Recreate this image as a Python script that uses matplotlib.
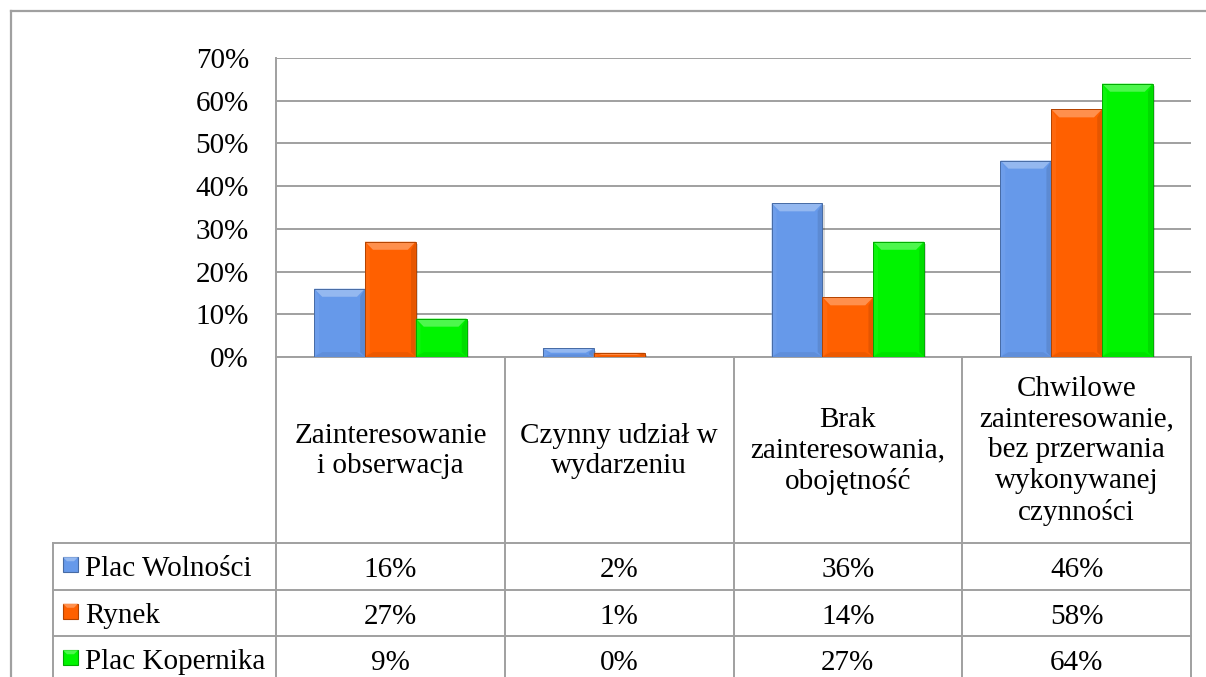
import matplotlib.pyplot as plt
import matplotlib.colors as mcolors
from matplotlib.patches import Polygon, Rectangle
from matplotlib.transforms import blended_transform_factory
import numpy as np

plt.rcParams["font.family"] = ["Liberation Serif", "DejaVu Serif"]

# ==========================================================
# Data
# ==========================================================

CATEGORIES = [
    "Zainteresowanie\ni obserwacja",
    "Czynny udział w\nwydarzeniu",
    "Brak\nzainteresowania,\nobojętność",
    "Chwilowe\nzainteresowanie,\nbez przerwania\nwykonywanej\nczynności",
]

SERIES = ["Plac Wolności", "Rynek", "Plac Kopernika"]

PLAC_WOLNOSCI = [16, 2, 36, 46]
RYNEK = [27, 1, 14, 58]
PLAC_KOPERNIKA = [9, 0, 27, 64]

VALUES = [PLAC_WOLNOSCI, RYNEK, PLAC_KOPERNIKA]

Y_TICKS = [0, 10, 20, 30, 40, 50, 60, 70]

# ==========================================================
# Style
# ==========================================================

COLORS = ["#6699EA", "#FF6000", "#00F400"]
GRID = "#a0a0a0"
FONT_SIZE = 21

W, H = 1206, 677


def mix(color, other, t):
    c = np.array(mcolors.to_rgb(color))
    o = np.array(mcolors.to_rgb(other))
    return tuple(c * (1 - t) + o * t)


def bevel_bar(ax, x0, w, h, color):
    if h <= 0:
        return
    bx = 0.035
    by = min(1.9, h / 2)
    edge = mix(color, "black", 0.3)
    # soft shadow
    ax.add_patch(Rectangle((x0 + 0.01, -0.5), w, h, color="#000000",
                           alpha=0.15, lw=0, zorder=2))
    ax.add_patch(Rectangle((x0, 0), w, h, facecolor=color, lw=0, zorder=3))
    faces = [
        ([(x0, h), (x0 + w, h), (x0 + w - bx, h - by), (x0 + bx, h - by)],
         mix(color, "white", 0.3)),
        ([(x0, 0), (x0 + w, 0), (x0 + w - bx, by * 0.6), (x0 + bx, by * 0.6)],
         mix(color, "black", 0.07)),
        ([(x0, 0), (x0 + bx * 0.6, by * 0.6), (x0 + bx * 0.6, h - by), (x0, h)],
         mix(color, "white", 0.05)),
        ([(x0 + w, 0), (x0 + w - bx * 0.6, by * 0.6), (x0 + w - bx * 0.6, h - by),
          (x0 + w, h)],
         mix(color, "black", 0.1)),
    ]
    for pts, fc in faces:
        ax.add_patch(Polygon(pts, closed=True, facecolor=fc, lw=0, zorder=4))
    ax.add_patch(Rectangle((x0, 0), w, h, facecolor="none",
                           edgecolor=edge, lw=0.7, zorder=5))


def main():
    fig = plt.figure(figsize=(W / 100, H / 100), dpi=100)

    # overlay in pixel coordinates for frame and table
    ov = fig.add_axes([0, 0, 1, 1], zorder=0)
    ov.set_xlim(0, W)
    ov.set_ylim(H, 0)
    ov.axis("off")

    left, right, top, base = 276, 1191, 58, 357
    ax = fig.add_axes([left / W, 1 - base / H, (right - left) / W, (base - top) / H],
                      zorder=1)
    ax.patch.set_alpha(0)

    n = len(CATEGORIES)
    x = np.arange(n)
    width = 0.222

    ax.set_xlim(-0.5, n - 0.5)
    ax.set_ylim(0, 70)

    for i, vals in enumerate(VALUES):
        for xi, v in zip(x, vals):
            x0 = xi + (i - 1) * width - width / 2
            bevel_bar(ax, x0, width, v, COLORS[i])

    ax.set_yticks(Y_TICKS)
    ax.set_yticklabels([f"{t}%" for t in Y_TICKS], fontsize=FONT_SIZE)
    ax.tick_params(axis="y", length=0, pad=19.5)
    ax.set_xticks([])
    ax.yaxis.grid(True, color=GRID, lw=1.4, zorder=0)
    ax.set_axisbelow(True)
    for s in ["top", "right", "bottom"]:
        ax.spines[s].set_visible(False)
    ax.spines["left"].set_color(GRID)
    ax.spines["left"].set_linewidth(1.4)

    # outer frame
    ov.plot([11, W], [11, 11], color=GRID, lw=1.6)
    ov.plot([11, 11], [11, H], color=GRID, lw=1.6)

    # data table below the plot
    tr = blended_transform_factory(ax.transData, ov.transData)
    edges = np.arange(n + 1) - 0.5
    row_top, row_h = 543, 46.5
    for e in edges:
        ax.plot([e, e], [base, H], color=GRID, lw=1.4, transform=tr,
                clip_on=False, zorder=1)
    ov.plot([left, right], [base, base], color=GRID, lw=1.4)
    ov.plot([53, 53], [row_top, H], color=GRID, lw=1.4)
    for r in range(len(SERIES)):
        ov.plot([53, right], [row_top + r * row_h] * 2, color=GRID, lw=1.4)

    for xi, label in zip(x, CATEGORIES):
        ax.text(xi, (base + row_top) / 2 + 1, label, transform=tr, ha="center",
                va="center", multialignment="center", fontsize=FONT_SIZE,
                linespacing=1.24)

    for r, (name, vals) in enumerate(zip(SERIES, VALUES)):
        yc = row_top + (r + 0.5) * row_h
        c = COLORS[r]
        ov.add_patch(Rectangle((63, yc - 9), 15, 15, facecolor=c,
                               edgecolor=mix(c, "black", 0.3), lw=0.8))
        ov.add_patch(Polygon([(63, yc - 9), (78, yc - 9), (74, yc - 5),
                              (67, yc - 5)], closed=True,
                             facecolor=mix(c, "white", 0.3), lw=0))
        ov.text(85, yc + 3, name, ha="left", va="center", fontsize=FONT_SIZE)
        for xi, v in zip(x, vals):
            ax.text(xi, yc + 4, f"{v}%", transform=tr, ha="center", va="center",
                    fontsize=FONT_SIZE)

    fig.savefig("out.png", dpi=100)


if __name__ == "__main__":
    main()
